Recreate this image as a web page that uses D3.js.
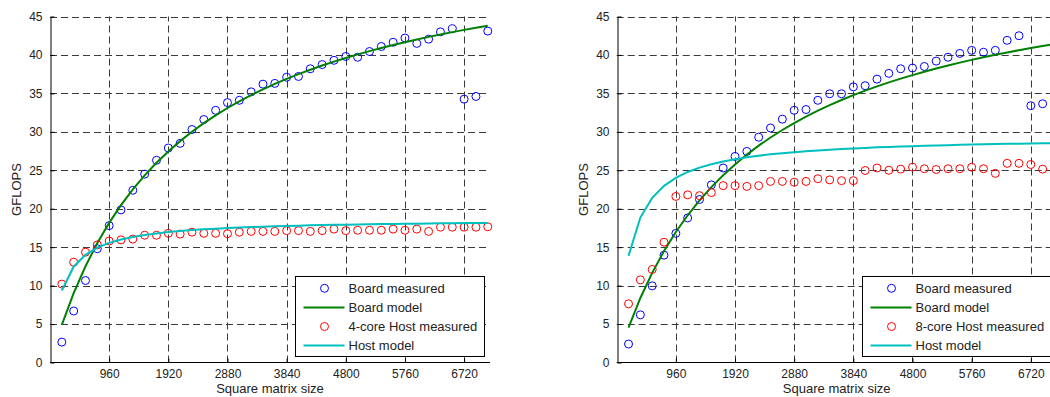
<!DOCTYPE html>
<html>
<head>
<meta charset="utf-8">
<script src="https://cdn.jsdelivr.net/npm/d3@7"></script>
<style>
  body { margin: 0; background: #fff; }
  svg { display: block; font-family: "Liberation Sans", Arial, Helvetica, sans-serif; }
</style>
</head>
<body>
<svg id="chart" width="1050" height="397"></svg>
<script>
// matrix sizes, step 192
var sizes = [192,384,576,768,960,1152,1344,1536,1728,1920,2112,2304,2496,2688,2880,3072,3264,3456,3648,3840,
  4032,4224,4416,4608,4800,4992,5184,5376,5568,5760,5952,6144,6336,6528,6720,6912,7104];
var xTicks = [960,1920,2880,3840,4800,5760,6720];
var yTicks = [0,5,10,15,20,25,30,35,40,45];

// left panel (4-core host)
var boardMeasuredA = [2.65,6.7,10.66,14.8,17.8,19.85,22.4,24.5,26.3,27.9,28.5,30.3,31.6,32.8,33.8,34.1,35.2,36.2,36.3,37.1,
  37.2,38.2,38.75,39.3,39.8,39.7,40.45,41.1,41.65,42.2,41.5,42.05,43.0,43.4,34.25,34.6,43.1];
var boardModelA = [4.9,9.01,12.52,15.54,18.16,20.47,22.52,24.34,25.98,27.45,28.79,30.01,31.13,32.15,33.1,33.97,34.78,35.53,36.23,36.89,
  37.5,38.08,38.62,39.13,39.61,40.07,40.5,40.9,41.29,41.66,42.01,42.35,42.66,42.97,43.26,43.54,43.8];
var hostMeasuredA = [10.2,13.05,14.35,15.3,15.8,15.95,16.05,16.55,16.55,16.8,16.7,16.95,16.8,16.8,16.75,16.95,17.05,17.05,17.05,17.15,
  17.15,17.05,17.15,17.35,17.15,17.2,17.2,17.2,17.35,17.2,17.35,17.05,17.6,17.6,17.6,17.6,17.65];
var hostModelA = [9.36,12.46,14.01,14.94,15.56,16.0,16.33,16.59,16.79,16.96,17.1,17.22,17.32,17.41,17.48,17.55,17.61,17.67,17.72,17.76,
  17.8,17.84,17.87,17.9,17.93,17.96,17.98,18.0,18.02,18.04,18.06,18.08,18.1,18.11,18.13,18.14,18.15];

// right panel (8-core host)
var boardMeasuredB = [2.4,6.2,9.97,13.96,16.8,18.8,21.2,23.1,25.3,26.8,27.45,29.3,30.5,31.65,32.8,32.9,34.1,34.95,34.95,35.85,
  36.0,36.85,37.6,38.2,38.3,38.5,39.2,39.7,40.2,40.6,40.35,40.6,41.9,42.5,33.4,33.65,42.8];
var boardModelB = [4.55,8.39,11.66,14.5,16.97,19.15,21.08,22.81,24.36,25.76,27.04,28.2,29.26,30.24,31.14,31.98,32.75,33.47,34.14,34.77,
  35.36,35.91,36.43,36.92,37.38,37.82,38.24,38.63,39.0,39.36,39.69,40.02,40.32,40.62,40.9,41.17,41.42];
var hostMeasuredB = [7.63,10.75,12.1,15.65,21.6,21.8,21.7,22.1,23.0,23.0,22.9,23.0,23.55,23.55,23.45,23.55,23.9,23.75,23.65,23.65,
  24.97,25.3,25.0,25.15,25.4,25.2,25.1,25.2,25.2,25.4,25.2,24.6,25.9,25.9,25.75,25.15,25.8];
var hostModelB = [13.87,18.85,21.41,22.97,24.02,24.78,25.34,25.79,26.15,26.44,26.68,26.89,27.07,27.22,27.36,27.48,27.58,27.68,27.76,27.84,
  27.91,27.98,28.03,28.09,28.14,28.19,28.23,28.27,28.31,28.34,28.37,28.41,28.44,28.46,28.49,28.51,28.54];

var legendA = ["Board measured","Board model","4-core Host measured","Host model"];
var legendB = ["Board measured","Board model","8-core Host measured","Host model"];

var svg = d3.select("#chart");

//draw one panel
function drawPanel(left, series, labels) {
  var w = 440, top = 16.5, bottom = 362.5;
  var x = d3.scaleLinear().domain([0, 7140]).range([left, left + w]);
  var y = d3.scaleLinear().domain([0, 45]).range([bottom, top]);
  var g = svg.append("g");

  // grid
  g.selectAll(".hg").data(yTicks.slice(1)).enter().append("line")
    .attr("x1", left).attr("x2", left + w)
    .attr("y1", function(d){ return Math.round(y(d)) + 0.5; }).attr("y2", function(d){ return Math.round(y(d)) + 0.5; })
    .attr("stroke", "#3a3a3a").attr("stroke-width", 1).attr("stroke-dasharray", "7,4");
  g.selectAll(".vg").data(xTicks).enter().append("line")
    .attr("y1", bottom).attr("y2", top)
    .attr("x1", function(d){ return Math.round(x(d)) + 0.5; }).attr("x2", function(d){ return Math.round(x(d)) + 0.5; })
    .attr("stroke", "#3a3a3a").attr("stroke-width", 1).attr("stroke-dasharray", "7,4");

  // axes, ticks pointing inward
  var xAxis = d3.axisBottom(x).tickValues(xTicks).tickFormat(d3.format("d"))
    .tickSizeInner(-4).tickSizeOuter(0).tickPadding(7);
  var yAxis = d3.axisLeft(y).tickValues(yTicks).tickFormat(d3.format("d"))
    .tickSizeInner(-4).tickSizeOuter(0).tickPadding(8);
  var gx = g.append("g").attr("transform", "translate(0," + bottom + ")").call(xAxis);
  var gy = g.append("g").attr("transform", "translate(" + (Math.round(left) + 0.5) + ",0)").call(yAxis);
  [gx, gy].forEach(function(a){
    a.select(".domain").attr("stroke", "#000");
    a.selectAll(".tick line").attr("stroke", "#000");
    a.selectAll("text").attr("font-size", "12px").attr("fill", "#222").style("font-family", "inherit");
  });
  gx.select(".domain").attr("d", "M" + left + ",0H" + (left + w));

  g.append("text").attr("x", left + w / 2).attr("y", 393).attr("text-anchor", "middle")
    .attr("font-size", "13px").attr("fill", "#222").text("Square matrix size");
  g.append("text").attr("transform", "translate(" + (left - 29) + "," + ((top + bottom) / 2) + ") rotate(-90)")
    .attr("text-anchor", "middle").attr("font-size", "13px").attr("fill", "#222").text("GFLOPS");

  var line = d3.line().x(function(d, i){ return x(sizes[i]); }).y(function(d){ return y(d); });

  function circles(vals, col) {
    g.append("g").selectAll("circle").data(vals).enter().append("circle")
      .attr("cx", function(d, i){ return x(sizes[i]); })
      .attr("cy", function(d){ return y(d); })
      .attr("r", 4).attr("fill", "none").attr("stroke", col).attr("stroke-width", 1);
  }
  function path(vals, col) {
    g.append("path").datum(vals).attr("d", line)
      .attr("fill", "none").attr("stroke", col).attr("stroke-width", 2);
  }

  circles(series[0], "#0000ff");
  path(series[1], "#008000");
  circles(series[2], "#ff0000");
  path(series[3], "#00bfbf");

  // legend
  var bx = Math.round(left + w - 195) + 0.5, by = 276.5;
  var lg = g.append("g");
  lg.append("rect").attr("x", bx).attr("y", by).attr("width", 189).attr("height", 80)
    .attr("fill", "#fff").attr("stroke", "#000").attr("stroke-width", 1);
  var kinds = ["c", "l", "c", "l"], cols = ["#0000ff", "#008000", "#ff0000", "#00bfbf"];
  labels.forEach(function(t, i){
    var ry = by + 11.8 + i * 19.1;
    if (kinds[i] == "c") {
      lg.append("circle").attr("cx", bx + 29).attr("cy", ry).attr("r", 4)
        .attr("fill", "none").attr("stroke", cols[i]).attr("stroke-width", 1);
    } else {
      lg.append("line").attr("x1", bx + 8).attr("x2", bx + 49).attr("y1", ry).attr("y2", ry)
        .attr("stroke", cols[i]).attr("stroke-width", 2);
    }
    lg.append("text").attr("x", bx + 53).attr("y", ry + 4.5).attr("font-size", "13px")
      .attr("fill", "#222").text(t);
  });
}

drawPanel(50, [boardMeasuredA, boardModelA, hostMeasuredA, hostModelA], legendA);
drawPanel(616.7, [boardMeasuredB, boardModelB, hostMeasuredB, hostModelB], legendB);
</script>
</body>
</html>
